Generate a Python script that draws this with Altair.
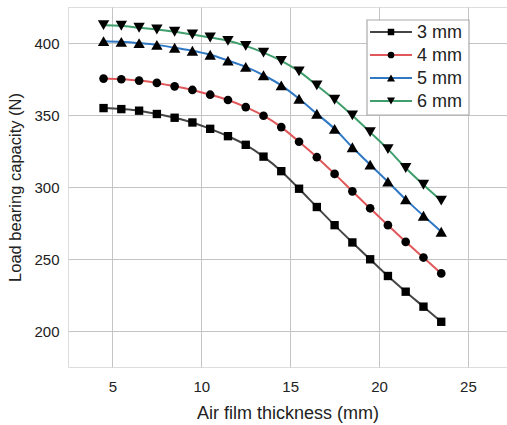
import altair as alt
import pandas as pd

# Air film thickness (mm) at which the load capacity was evaluated
thickness = [4.5, 5.5, 6.5, 7.5, 8.5, 9.5, 10.5, 11.5, 12.5, 13.5,
             14.5, 15.5, 16.5, 17.5, 18.5, 19.5, 20.5, 21.5, 22.5, 23.5]

# Load bearing capacity (N) for each groove depth
load_3mm = [354.8, 354.1, 353.0, 350.7, 348.1, 344.8, 340.4, 335.3, 329.3, 321.1,
            311.0, 298.8, 286.1, 273.5, 261.5, 249.8, 238.2, 227.3, 216.9, 206.4]
load_4mm = [375.3, 374.8, 373.9, 372.3, 369.9, 367.4, 364.1, 360.4, 355.5, 349.5,
            341.6, 331.4, 320.7, 309.1, 297.0, 285.2, 273.5, 261.9, 251.0, 240.0]
load_5mm = [401.3, 400.8, 399.9, 398.7, 396.7, 394.6, 391.8, 387.8, 383.4, 377.6,
            370.6, 361.3, 350.9, 340.4, 327.6, 315.5, 303.7, 291.4, 280.0, 268.9]
load_6mm = [412.4, 412.0, 410.6, 409.4, 407.8, 405.9, 403.8, 401.5, 398.0, 393.3,
            387.6, 380.3, 370.6, 360.6, 349.7, 338.1, 326.3, 313.2, 301.6, 290.5]

series_names = ["3 mm", "4 mm", "5 mm", "6 mm"]
series_loads = [load_3mm, load_4mm, load_5mm, load_6mm]
line_colors = ["#454545", "#e0585a", "#2f78c4", "#3f9e6c"]
marker_shapes = ["square", "circle", "triangle-up", "triangle-down"]
marker_sizes = [70, 75, 130, 130]
legend_marker_sizes = [42, 45, 65, 65]

x_ticks = [5, 10, 15, 20, 25]
y_ticks = [200, 250, 300, 350, 400]

FONT = "Liberation Sans"
W, H = 439, 360

rows = []
for name, loads in zip(series_names, series_loads):
    for t, v in zip(thickness, loads):
        rows.append({"series": name, "thickness": t, "load": v})
df = pd.DataFrame(rows)

x_enc = alt.X("thickness:Q",
              scale=alt.Scale(domain=[2.5, 27.2], nice=False, zero=False),
              axis=alt.Axis(values=x_ticks, title="Air film thickness (mm)",
                            grid=True, gridColor="#c4c4c4", gridWidth=1,
                            ticks=False, domain=False, labelFont=FONT,
                            labelFontSize=15, labelColor="#222",
                            labelPadding=12, titleFont=FONT, titleFontSize=18,
                            titleFontWeight="normal", titleColor="#222",
                            titlePadding=10))
y_enc = alt.Y("load:Q",
              scale=alt.Scale(domain=[175, 425], nice=False, zero=False),
              axis=alt.Axis(values=y_ticks, title="Load bearing capacity (N)",
                            grid=True, gridColor="#c4c4c4", gridWidth=1,
                            ticks=False, domain=False, labelFont=FONT,
                            labelFontSize=15, labelColor="#222",
                            labelPadding=9, titleFont=FONT, titleFontSize=16.5,
                            titleFontWeight="normal", titleColor="#222",
                            titlePadding=10))

color_scale = alt.Scale(domain=series_names, range=line_colors)

lines = alt.Chart(df).mark_line(strokeWidth=2, interpolate="monotone").encode(
    x=x_enc, y=y_enc,
    color=alt.Color("series:N", scale=color_scale, legend=None),
    detail="series:N",
)

# One marker layer per series so each gets its own shape and size
marker_layers = []
for name, shp, msz in zip(series_names, marker_shapes, marker_sizes):
    marker_layers.append(
        alt.Chart(df).transform_filter(alt.datum.series == name)
        .mark_point(shape=shp, size=msz, filled=True, color="black", opacity=1)
        .encode(x=alt.X("thickness:Q"), y=alt.Y("load:Q"))
    )

# Legend drawn as its own small layer: box, line samples, markers, labels
leg_left, leg_top, leg_right, leg_bottom = 299, 13, 401, 108
row_y0, row_step = 25, 23
legend_layers = [
    alt.Chart(pd.DataFrame({"k": [0]})).mark_rect(
        fill="white", stroke="#aaaaaa", strokeWidth=1.2).encode(
        x=alt.value(leg_left), x2=alt.value(leg_right),
        y=alt.value(leg_top), y2=alt.value(leg_bottom))
]
for i, (name, col, shp, msz) in enumerate(
        zip(series_names, line_colors, marker_shapes, legend_marker_sizes)):
    yy = row_y0 + i * row_step
    one = pd.DataFrame({"series": [name]})
    legend_layers.append(
        alt.Chart(one).mark_rule(color=col, strokeWidth=2).encode(
            x=alt.value(302), x2=alt.value(344), y=alt.value(yy)))
    legend_layers.append(
        alt.Chart(one).mark_point(shape=shp, filled=True, size=msz,
                                  color="black", opacity=1).encode(
            x=alt.value(323), y=alt.value(yy)))
    legend_layers.append(
        alt.Chart(one).mark_text(align="left", baseline="middle", font=FONT,
                                 fontSize=18, color="#222").encode(
            x=alt.value(349), y=alt.value(yy + 1), text="series:N"))

chart = alt.layer(lines, *marker_layers, *legend_layers).properties(
    width=W, height=H,
    autosize=alt.AutoSizeParams(type="none"),
    padding={"left": 68, "top": 7, "right": 0, "bottom": 58},
).configure_view(
    stroke="#444444", strokeWidth=1.5
).configure(background="white")

chart.save("out.html", embed_options={"renderer": "svg", "actions": False})
